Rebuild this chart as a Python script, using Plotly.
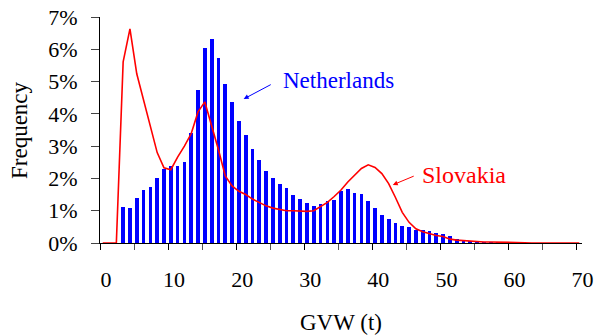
import numpy as np
import plotly.graph_objects as go

# Netherlands histogram (GVW bins 3..58 t), frequency in %
nl_bins = list(range(3, 59))
nl_freq = [1.12, 1.09, 1.40, 1.65, 1.74, 2.02, 2.30, 2.39, 2.39, 2.52,
           3.41, 4.74, 6.05, 6.32, 5.74, 4.93, 4.37, 3.79, 3.33, 2.90,
           2.56, 2.24, 2.02, 1.84, 1.71, 1.50, 1.37, 1.25, 1.15, 1.22,
           1.31, 1.34, 1.62, 1.68, 1.56, 1.53, 1.31, 1.09, 0.88, 0.75,
           0.63, 0.54, 0.50, 0.41, 0.41, 0.38, 0.32, 0.29, 0.23, 0.13,
           0.10, 0.07, 0.04, 0.03, 0.02, 0.01]

# Slovakia distribution (GVW bins 0..70 t), frequency in %
sk_bins = list(range(0, 71))
sk_freq = [0, 0, 0, 5.61, 6.63, 5.24, 4.43, 3.61, 2.80, 2.33,
           2.27, 2.66, 3.00, 3.39, 4.06, 4.37, 3.66, 2.89, 2.08, 1.77,
           1.60, 1.50, 1.36, 1.26, 1.15, 1.08, 1.03, 1.00, 1.00, 0.98,
           0.98, 1.00, 1.13, 1.26, 1.44, 1.64, 1.89, 2.09, 2.31, 2.42,
           2.34, 2.15, 1.84, 1.41, 0.95, 0.64, 0.44, 0.35, 0.29, 0.23,
           0.20, 0.12, 0.09, 0.07, 0.05, 0.04, 0.03, 0.03, 0.03, 0.03,
           0.02, 0.02, 0.01, 0, 0, 0, 0, 0, 0, 0, 0]

x_ticks = [0, 10, 20, 30, 40, 50, 60, 70]
x_labels = ["0", "10", "20", "30", "40", "50", "60", "70"]
y_ticks = [0, 1, 2, 3, 4, 5, 6, 7]
y_labels = ["0%", "1%", "2%", "3%", "4%", "5%", "6%", "7%"]

offset = 0.4
FONT = "Liberation Serif, Times New Roman, serif"

fig = go.Figure()
fig.add_trace(go.Bar(x=[b + offset for b in nl_bins], y=nl_freq, width=0.55,
                     marker=dict(color="#0000FF", line=dict(width=0)),
                     name="Netherlands"))
fig.add_trace(go.Scatter(x=[b + offset for b in sk_bins], y=sk_freq, mode="lines",
                         line=dict(color="#FF0000", width=1.6), name="Slovakia"))

fig.update_layout(
    width=596, height=336,
    margin=dict(l=100, r=14, t=17, b=93, autoexpand=False),
    plot_bgcolor="white", paper_bgcolor="white",
    showlegend=False,
    font=dict(family=FONT, size=22, color="black"),
    xaxis=dict(range=[0, 70.8], tickvals=x_ticks, ticktext=x_labels,
               ticks="outside", ticklen=6, automargin=False,
               tickcolor="black", showline=True, linecolor="black", linewidth=1,
               showgrid=False, zeroline=False, ticklabelstandoff=11,
               ticklabelshift=6,
               tickfont=dict(family=FONT, size=22, color="black"),
               minor=dict(dtick=5, tick0=0, ticks="outside", ticklen=6,
                          tickcolor="#555555", showgrid=False)),
    yaxis=dict(range=[0, 7], tickvals=y_ticks, ticktext=y_labels, ticks="outside",
               ticklen=8, tickcolor="#444444", showline=True, linecolor="black",
               linewidth=1, showgrid=False, zeroline=False, ticklabelstandoff=9,
               automargin=False,
               tickfont=dict(family=FONT, size=22, color="black")),
    bargap=0,
)

fig.add_annotation(text="Frequency", xref="paper", yref="paper", x=0, y=0.5,
                   xanchor="center", yanchor="middle", xshift=-81, textangle=-90,
                   showarrow=False, font=dict(family=FONT, size=23, color="black"))
fig.add_annotation(text="GVW (t)", xref="paper", yref="paper", x=0.5, y=0,
                   xanchor="center", yanchor="middle", yshift=-79,
                   showarrow=False, font=dict(family=FONT, size=23, color="black"))

fig.add_annotation(text="Netherlands", x=35.0, y=5.02, showarrow=False,
                   font=dict(family=FONT, size=23, color="#0000FF"))
fig.add_annotation(text="", x=21.1, y=4.46, ax=25.3, ay=4.93, axref="x", ayref="y",
                   showarrow=True, arrowhead=2, arrowsize=1, arrowwidth=1,
                   arrowcolor="#0000FF")
fig.add_annotation(text="Slovakia", x=53.4, y=2.11, showarrow=False,
                   font=dict(family=FONT, size=24, color="#FF0000"))
fig.add_annotation(text="", x=43.0, y=1.80, ax=46.3, ay=2.09, axref="x", ayref="y",
                   showarrow=True, arrowhead=2, arrowsize=1, arrowwidth=1,
                   arrowcolor="#FF0000")

fig.write_html("out.html", config={"displayModeBar": False},
               post_script="document.body.style.margin='0';document.body.style.padding='0';")
